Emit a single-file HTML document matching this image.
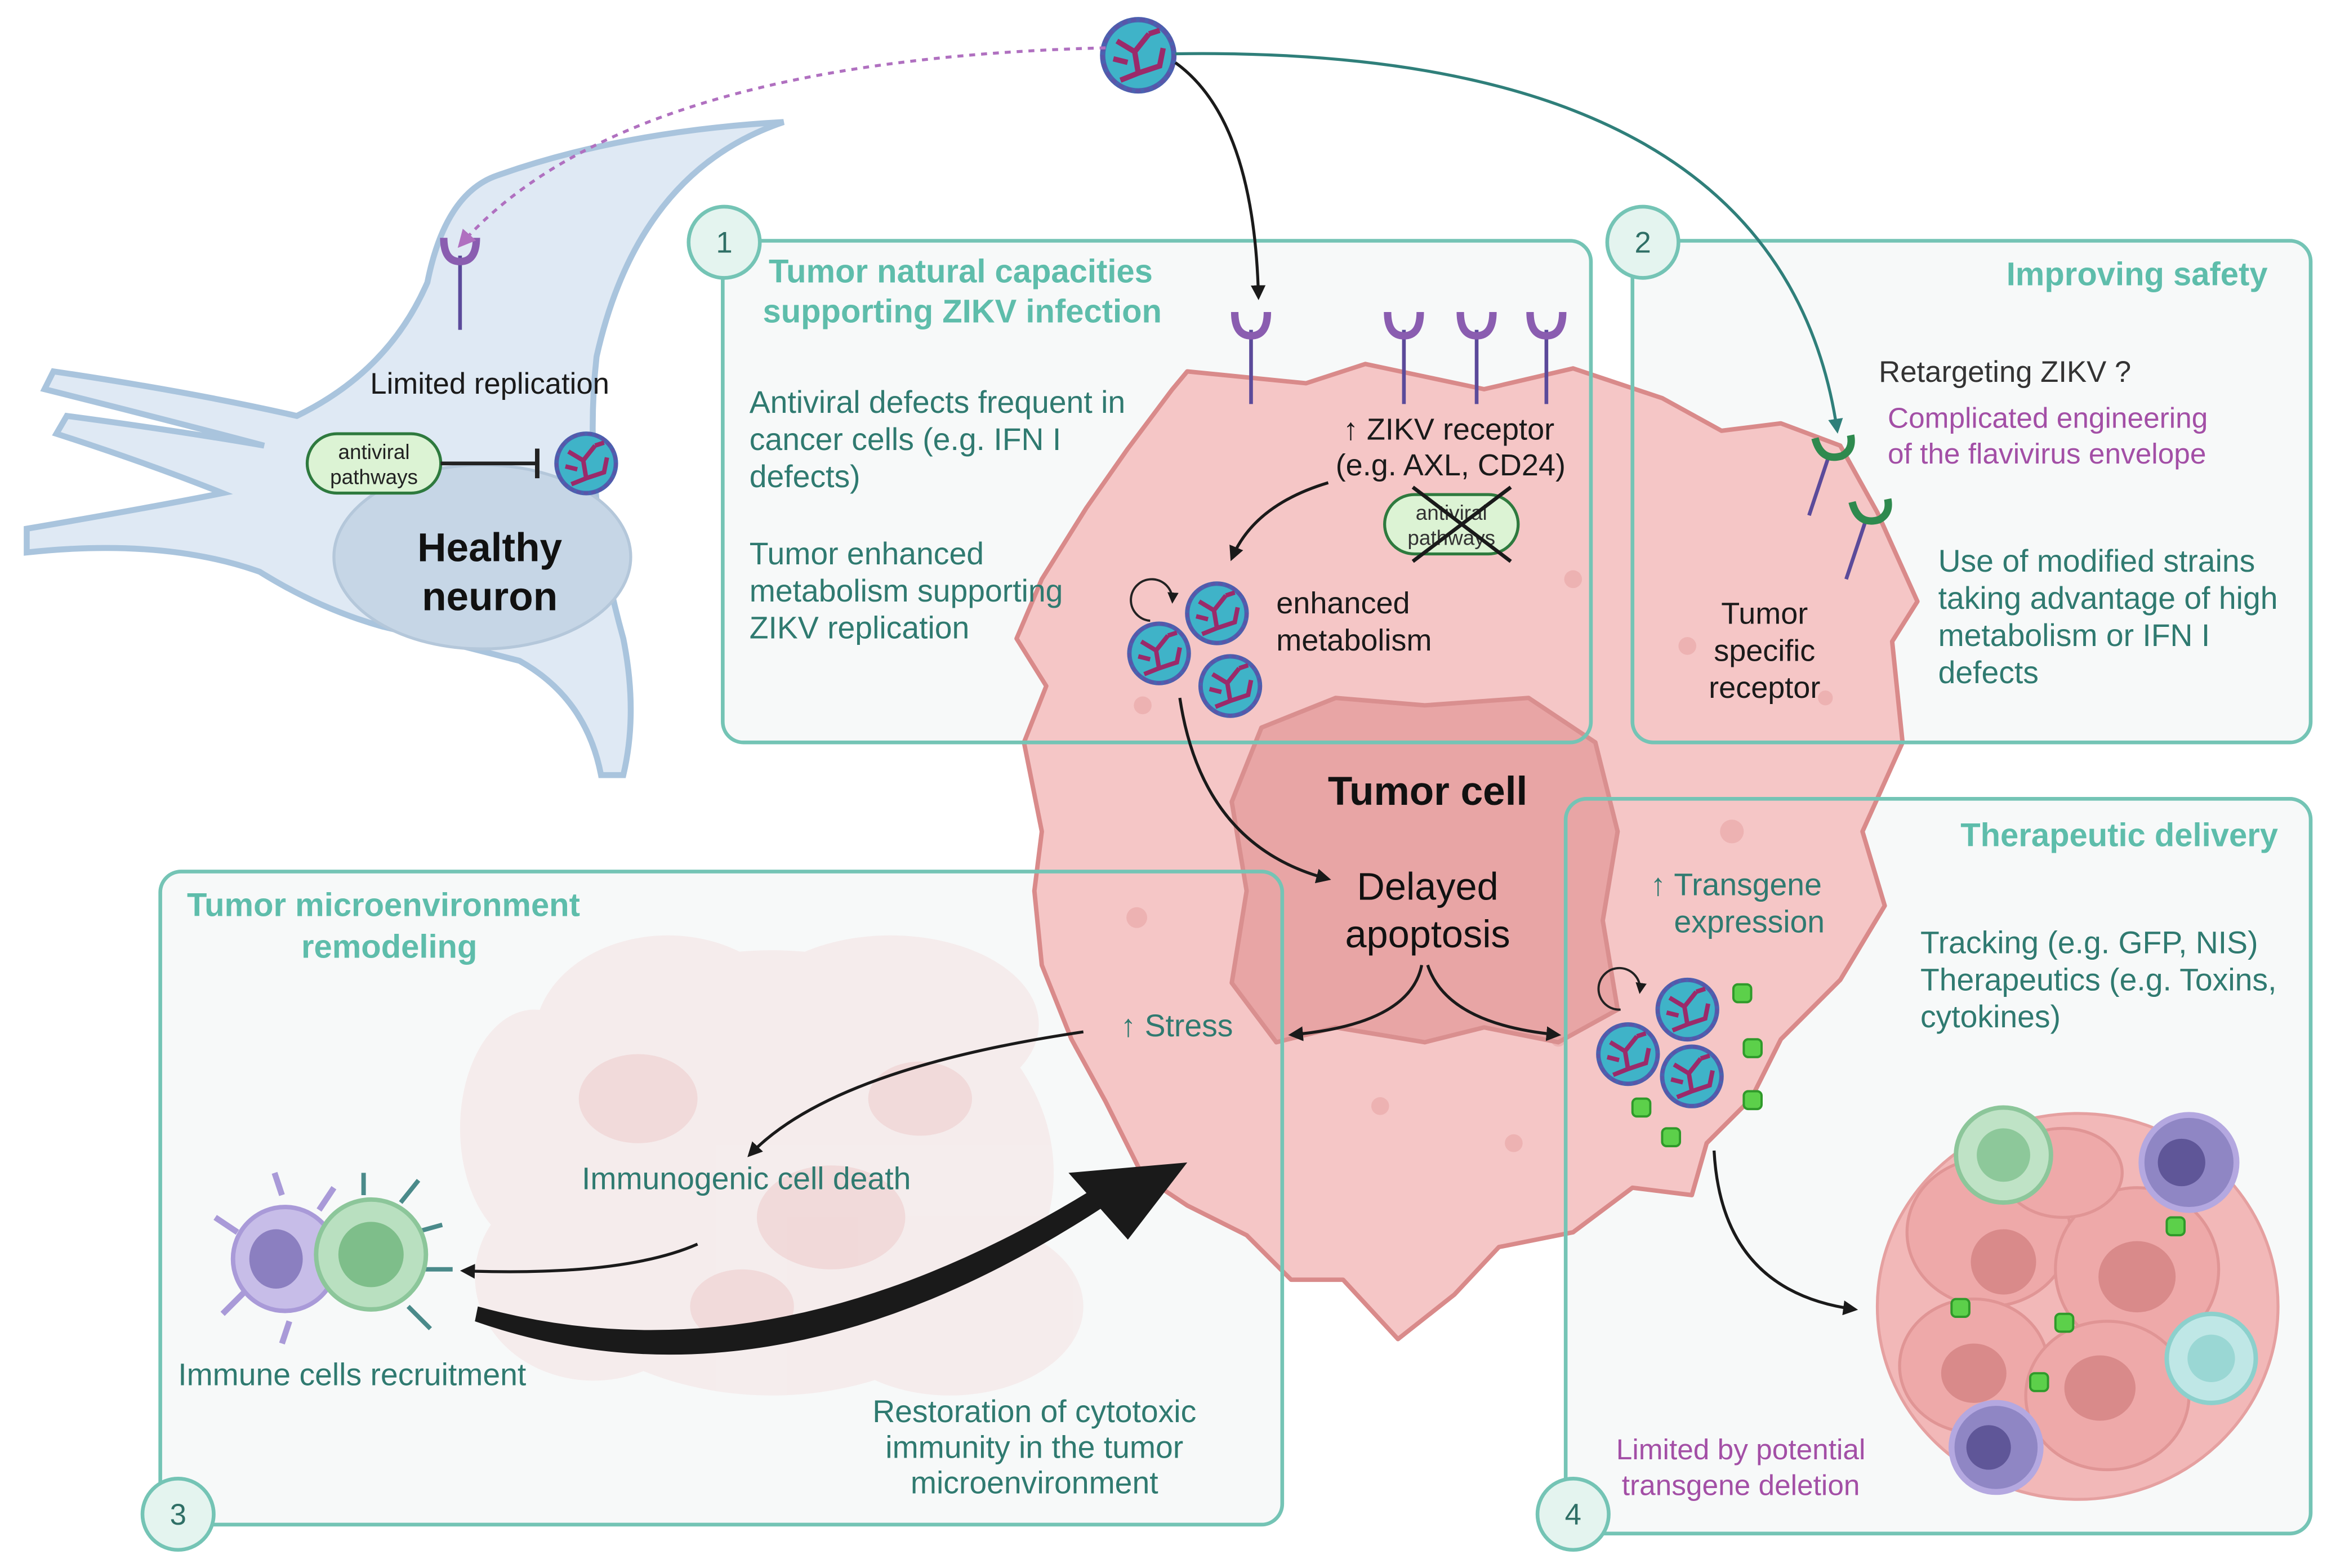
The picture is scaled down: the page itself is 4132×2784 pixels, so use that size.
<!DOCTYPE html>
<html><head><meta charset="utf-8"><style>
html,body{margin:0;padding:0;background:#fff}
svg{display:block}
text{font-family:"Liberation Sans",sans-serif}
</style></head><body>
<svg width="4132" height="2784" viewBox="0 0 1568 1056" xmlns="http://www.w3.org/2000/svg">
<defs>
<g id="vir">
<circle r="20" fill="#3fb3c8" stroke="#4a62b0" stroke-width="3"/>
<path d="M-12,-8 L-2,-2 L6,-12 M-2,-2 L0,10 L-10,14 M0,10 L12,6 L14,-4 M6,-12 L12,-14 M-14,2 L-6,4" stroke="#9b2a6a" stroke-width="3" fill="none"/>
<circle r="20" fill="none" stroke="#5a55a8" stroke-width="2" stroke-dasharray="3 2"/>
</g>
<g id="rec">
<line x1="0" y1="0" x2="0" y2="50" stroke="#5b4a9a" stroke-width="2.5"/>
<path d="M-11,-12 Q-11,4 0,4 Q11,4 11,-12" fill="none" stroke="#8a5db0" stroke-width="5"/>
</g>
<g id="grec">
<line x1="0" y1="0" x2="-14" y2="42" stroke="#5b4a9a" stroke-width="2.5"/>
<path d="M-10,-10 Q-6,6 8,2 Q16,-2 14,-12" fill="none" stroke="#2e8a4e" stroke-width="5"/>
</g>
<marker id="ah" viewBox="0 0 10 10" refX="8" refY="5" markerWidth="5" markerHeight="5" orient="auto-start-reverse"><path d="M0,0 L10,5 L0,10 z" fill="#1a1a1a"/></marker>
<marker id="aht" viewBox="0 0 10 10" refX="8" refY="5" markerWidth="5" markerHeight="5" orient="auto"><path d="M0,0 L10,5 L0,10 z" fill="#2f7f7a"/></marker>
<marker id="ahp" viewBox="0 0 10 10" refX="8" refY="5" markerWidth="6" markerHeight="6" orient="auto"><path d="M0,0 L10,5 L0,10 z" fill="#b070c0"/></marker>
</defs>

<!-- neuron -->
<path d="M528 82 Q430 115 402 240 Q392 330 420 430 Q430 480 420 522 L405 522 Q395 470 350 445 Q300 432 258 422 Q215 410 175 385 Q110 362 18 372 L18 356 Q100 342 150 332 Q100 312 38 292 L45 280 Q120 290 178 300 Q110 282 30 262 L36 250 Q130 264 200 280 Q262 250 288 190 Q300 130 335 118 Q420 88 528 82 Z" fill="#dfe9f4" stroke="#a9c4dd" stroke-width="4"/>
<ellipse cx="325" cy="375" rx="100" ry="62" fill="#c6d6e6" stroke="#b4c7da" stroke-width="2"/>
<use href="#rec" x="310" y="172"/>
<text x="330" y="265" font-size="20" text-anchor="middle" fill="#1a1a1a">Limited replication</text>
<rect x="207" y="292" width="90" height="40" rx="20" fill="#dcf3d4" stroke="#2e7a3e" stroke-width="2"/>
<text x="252" y="309" font-size="14" text-anchor="middle" fill="#222">antiviral</text>
<text x="252" y="326" font-size="14" text-anchor="middle" fill="#222">pathways</text>
<line x1="297" y1="312" x2="362" y2="312" stroke="#222" stroke-width="2.5"/>
<line x1="362" y1="302" x2="362" y2="322" stroke="#222" stroke-width="3"/>
<use href="#vir" x="395" y="312"/>
<text x="330" y="378" font-size="27" font-weight="bold" text-anchor="middle" fill="#111">Healthy</text>
<text x="330" y="411" font-size="27" font-weight="bold" text-anchor="middle" fill="#111">neuron</text>

<!-- box fills -->
<rect x="487" y="162" width="585" height="338" rx="14" fill="#f7f9f9"/>
<rect x="1100" y="162" width="457" height="338" rx="14" fill="#f7f9f9"/>
<rect x="108" y="587" width="756" height="440" rx="14" fill="#f7f9f9"/>
<rect x="1055" y="538" width="502" height="495" rx="14" fill="#f7f9f9"/>

<!-- faded microenvironment blob -->
<g opacity="0.3" fill="#f3cfcf">
<ellipse cx="520" cy="790" rx="190" ry="150"/>
<ellipse cx="450" cy="700" rx="90" ry="70"/>
<ellipse cx="600" cy="690" rx="100" ry="60"/>
<ellipse cx="400" cy="860" rx="80" ry="70"/>
<ellipse cx="640" cy="880" rx="90" ry="60"/>
<ellipse cx="360" cy="760" rx="50" ry="80"/>
</g>
<g opacity="0.3" fill="#e8b0b0">
<ellipse cx="430" cy="740" rx="40" ry="30"/><ellipse cx="560" cy="820" rx="50" ry="35"/><ellipse cx="500" cy="880" rx="35" ry="25"/><ellipse cx="620" cy="740" rx="35" ry="25"/>
</g>

<!-- tumor cell -->
<polygon points="800,250 880,258 920,245 1000,262 1060,248 1120,268 1160,290 1200,285 1240,300 1265,345 1292,405 1275,432 1282,500 1255,560 1270,610 1240,660 1200,700 1180,740 1150,770 1140,805 1100,800 1060,830 1010,840 980,872 942,902 905,862 870,862 840,832 800,812 770,792 745,742 722,700 702,650 697,600 702,560 690,500 705,462 685,430 702,390 732,342 760,302 790,262" fill="#f5c6c6" stroke="#d98a8a" stroke-width="3" stroke-linejoin="round"/>
<g fill="#eaa9a9" opacity="0.7">
<circle cx="766" cy="618" r="7"/><circle cx="930" cy="745" r="6"/><circle cx="1060" cy="390" r="6"/><circle cx="1137" cy="435" r="6"/><circle cx="1167" cy="560" r="8"/><circle cx="1230" cy="470" r="5"/><circle cx="900" cy="665" r="5"/><circle cx="770" cy="475" r="6"/><circle cx="1050" cy="700" r="5"/><circle cx="1020" cy="770" r="6"/>
</g>
<polygon points="850,490 900,470 960,475 1030,470 1075,500 1090,560 1080,620 1090,680 1050,702 1000,692 960,702 900,692 860,702 830,662 840,600 830,540" fill="#e8a5a5" stroke="#d98f8f" stroke-width="3" stroke-linejoin="round"/>
<text x="962" y="542" font-size="27" font-weight="bold" text-anchor="middle" fill="#111">Tumor cell</text>
<text x="962" y="606" font-size="26" text-anchor="middle" fill="#111">Delayed</text>
<text x="962" y="638" font-size="26" text-anchor="middle" fill="#111">apoptosis</text>

<!-- box outlines -->
<g fill="none" stroke="#74c4b5" stroke-width="2.5">
<rect x="487" y="162" width="585" height="338" rx="14"/>
<rect x="1100" y="162" width="457" height="338" rx="14"/>
<rect x="108" y="587" width="756" height="440" rx="14"/>
<rect x="1055" y="538" width="502" height="495" rx="14"/>
</g>
<g fill="#e4f4ef" stroke="#74c4b5" stroke-width="2.5">
<circle cx="488" cy="163" r="24"/><circle cx="1107" cy="163" r="24"/><circle cx="120" cy="1020" r="24"/><circle cx="1060" cy="1020" r="24"/>
</g>
<g font-size="20" text-anchor="middle" fill="#2f6f66">
<text x="488" y="170">1</text><text x="1107" y="170">2</text><text x="120" y="1027">3</text><text x="1060" y="1027">4</text>
</g>

<!-- titles -->
<g font-size="22" font-weight="bold" fill="#5ebdab">
<text x="518" y="190">Tumor natural capacities</text>
<text x="514" y="217">supporting ZIKV infection</text>
<text x="1528" y="192" text-anchor="end">Improving safety</text>
<text x="126" y="617">Tumor microenvironment</text>
<text x="203" y="645">remodeling</text>
<text x="1535" y="570" text-anchor="end">Therapeutic delivery</text>
</g>

<!-- box text -->
<g font-size="21" fill="#2f7a70">
<text x="505" y="278">Antiviral defects frequent in</text>
<text x="505" y="303">cancer cells (e.g. IFN I</text>
<text x="505" y="328">defects)</text>
<text x="505" y="380">Tumor enhanced</text>
<text x="505" y="405">metabolism supporting</text>
<text x="505" y="430">ZIKV replication</text>
<text x="1306" y="385">Use of modified strains</text>
<text x="1306" y="410">taking advantage of high</text>
<text x="1306" y="435">metabolism or IFN I</text>
<text x="1306" y="460">defects</text>
<text x="392" y="801">Immunogenic cell death</text>
<text x="120" y="933">Immune cells recruitment</text>
<text x="697" y="958" text-anchor="middle">Restoration of cytotoxic</text>
<text x="697" y="982" text-anchor="middle">immunity in the tumor</text>
<text x="697" y="1006" text-anchor="middle">microenvironment</text>
<text x="1294" y="642">Tracking (e.g. GFP, NIS)</text>
<text x="1294" y="667">Therapeutics (e.g. Toxins,</text>
<text x="1294" y="692">cytokines)</text>
<text x="1112" y="603">↑ Transgene</text>
<text x="1128" y="628">expression</text>
<text x="755" y="698">↑ Stress</text>
</g>
<text x="1266" y="257" font-size="20" fill="#333">Retargeting ZIKV ?</text>
<g font-size="19.5" fill="#a34fa6">
<text x="1272" y="288">Complicated engineering</text>
<text x="1272" y="312">of the flavivirus envelope</text>
<text x="1173" y="983" text-anchor="middle">Limited by potential</text>
<text x="1173" y="1007" text-anchor="middle">transgene deletion</text>
</g>
<g font-size="20.5" fill="#1a1a1a">
<text x="905" y="296">↑ ZIKV receptor</text>
<text x="900" y="320">(e.g. AXL, CD24)</text>
<text x="860" y="413">enhanced</text>
<text x="860" y="438">metabolism</text>
<text x="1189" y="420" text-anchor="middle">Tumor</text>
<text x="1189" y="445" text-anchor="middle">specific</text>
<text x="1189" y="470" text-anchor="middle">receptor</text>
</g>

<!-- receptors -->
<use href="#rec" x="843" y="222"/><use href="#rec" x="946" y="222"/><use href="#rec" x="995" y="222"/><use href="#rec" x="1042" y="222"/>
<use href="#grec" x="1233" y="305"/><use href="#grec" x="1258" y="348"/>

<!-- crossed pill -->
<rect x="933" y="333" width="90" height="40" rx="20" fill="#dcf3d4" stroke="#2e7a3e" stroke-width="2"/>
<text x="978" y="350" font-size="14" text-anchor="middle" fill="#333">antiviral</text>
<text x="978" y="367" font-size="14" text-anchor="middle" fill="#333">pathways</text>
<path d="M952 328 L1018 378 M1018 328 L952 378" stroke="#1a1a1a" stroke-width="2.5"/>

<!-- viruses -->
<use href="#vir" x="767" y="37" transform="translate(767 37) scale(1.2) translate(-767 -37)"/>
<use href="#vir" x="820" y="413"/><use href="#vir" x="781" y="440"/><use href="#vir" x="829" y="462"/>
<use href="#vir" x="1137" y="680"/><use href="#vir" x="1097" y="710"/><use href="#vir" x="1140" y="725"/>
<g fill="#5cd04a" stroke="#2f9a2a" stroke-width="1.5">
<rect x="1168" y="663" width="12" height="12" rx="3"/><rect x="1175" y="700" width="12" height="12" rx="3"/><rect x="1100" y="740" width="12" height="12" rx="3"/><rect x="1175" y="735" width="12" height="12" rx="3"/><rect x="1120" y="760" width="12" height="12" rx="3"/>
</g>

<!-- cycle arrows -->
<path d="M790 405 A14 14 0 1 0 775 418" fill="none" stroke="#222" stroke-width="1.5" marker-start="url(#ah)"/>
<path d="M1105 668 A14 14 0 1 0 1092 680" fill="none" stroke="#222" stroke-width="1.5" marker-start="url(#ah)"/>

<!-- connectors -->
<path d="M745 32 Q420 40 310 165" fill="none" stroke="#b070c0" stroke-width="2" stroke-dasharray="4 4" marker-end="url(#ahp)"/>
<path d="M792 42 Q845 80 848 200" fill="none" stroke="#1a1a1a" stroke-width="2" marker-end="url(#ah)"/>
<path d="M792 36 Q1200 30 1238 290" fill="none" stroke="#2f7f7a" stroke-width="2" marker-end="url(#aht)"/>
<path d="M895 325 Q845 340 830 376" fill="none" stroke="#1a1a1a" stroke-width="2" marker-end="url(#ah)"/>
<path d="M795 470 Q810 570 895 592" fill="none" stroke="#1a1a1a" stroke-width="2" marker-end="url(#ah)"/>
<path d="M958 650 Q950 690 870 697" fill="none" stroke="#1a1a1a" stroke-width="2" marker-end="url(#ah)"/>
<path d="M962 650 Q975 690 1050 697" fill="none" stroke="#1a1a1a" stroke-width="2" marker-end="url(#ah)"/>
<path d="M730 695 Q560 720 505 778" fill="none" stroke="#1a1a1a" stroke-width="2" marker-end="url(#ah)"/>
<path d="M470 838 Q420 860 312 856" fill="none" stroke="#1a1a1a" stroke-width="2" marker-end="url(#ah)"/>
<path d="M1155 775 Q1160 870 1250 882" fill="none" stroke="#1a1a1a" stroke-width="2" marker-end="url(#ah)"/>
<!-- thick arrow -->
<path d="M320 890 Q520 960 745 812 L738 800 Q520 935 322 880 Z" fill="#1a1a1a"/>
<polygon points="800,783 760,835 720,790" fill="#1a1a1a"/>

<!-- immune cells left -->
<g stroke="#a99ad8" stroke-width="4" fill="none">
<path d="M160 830 L145 820 M165 870 L150 885 M190 805 L185 790 M195 890 L190 905 M215 815 L225 800"/>
</g>
<circle cx="192" cy="848" r="35" fill="#c7bde8" stroke="#a99ad8" stroke-width="3"/>
<ellipse cx="186" cy="848" rx="18" ry="20" fill="#8b7fc0"/>
<g stroke="#4a8a8a" stroke-width="3"><path d="M270 810 L282 795 M280 830 L298 825 M285 855 L305 855 M275 880 L290 895 M245 805 L245 790"/></g>
<circle cx="250" cy="845" r="37" fill="#b9e0c0" stroke="#8cc69a" stroke-width="3"/>
<circle cx="250" cy="845" r="22" fill="#7ebe8a"/>

<!-- right cluster -->
<g fill="#f2b8b8" stroke="#e5a0a0" stroke-width="2">
<ellipse cx="1400" cy="880" rx="135" ry="130"/>
</g>
<g fill="#eea9a9" stroke="#e09595" stroke-width="2">
<ellipse cx="1340" cy="830" rx="55" ry="50"/><ellipse cx="1440" cy="855" rx="55" ry="55"/><ellipse cx="1330" cy="920" rx="50" ry="45"/><ellipse cx="1420" cy="940" rx="55" ry="50"/><ellipse cx="1390" cy="790" rx="40" ry="30"/>
</g>
<g fill="#d98a8a">
<ellipse cx="1350" cy="850" rx="22" ry="22"/><ellipse cx="1440" cy="860" rx="26" ry="24"/><ellipse cx="1330" cy="925" rx="22" ry="20"/><ellipse cx="1415" cy="935" rx="24" ry="22"/>
</g>
<g fill="#5cd04a" stroke="#2f9a2a" stroke-width="1.5">
<rect x="1460" y="820" width="12" height="12" rx="3"/><rect x="1315" y="875" width="12" height="12" rx="3"/><rect x="1385" y="885" width="12" height="12" rx="3"/><rect x="1368" y="925" width="12" height="12" rx="3"/>
</g>
<circle cx="1350" cy="778" r="32" fill="#bfe3c6" stroke="#8cc69a" stroke-width="3"/><circle cx="1350" cy="778" r="18" fill="#8dc89a"/>
<circle cx="1475" cy="783" r="32" fill="#8f86c4" stroke="#b4a8e0" stroke-width="4"/><circle cx="1470" cy="783" r="16" fill="#5f5698"/>
<circle cx="1490" cy="915" r="30" fill="#bfe7e6" stroke="#8cd0cc" stroke-width="3"/><circle cx="1490" cy="915" r="16" fill="#9ad7d4"/>
<circle cx="1345" cy="975" r="30" fill="#8f86c4" stroke="#b4a8e0" stroke-width="4"/><circle cx="1340" cy="975" r="15" fill="#5f5698"/>
</svg>
</body></html>
